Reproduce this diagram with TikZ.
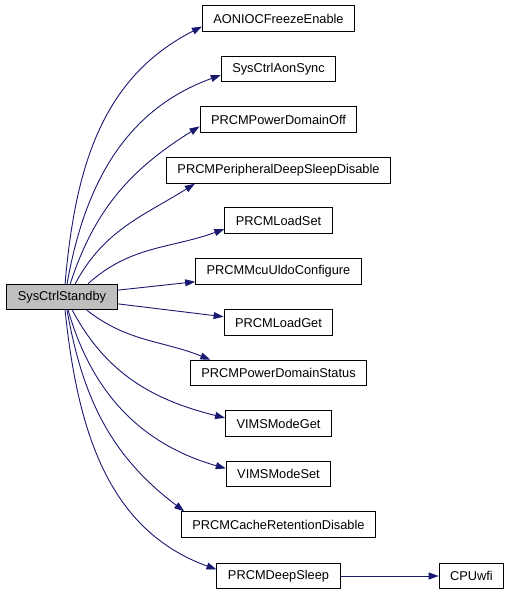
\documentclass[tikz,border=0pt]{standalone}
\usepackage{fontspec}
\setmainfont{Liberation Sans}
\usetikzlibrary{arrows.meta}

\definecolor{edgeblue}{HTML}{191970}
\definecolor{callergray}{HTML}{BFBFBF}

\begin{document}
\begin{tikzpicture}[
    x=1pt, y=1pt,
    font=\fontsize{12.8}{15}\selectfont,
    func/.style={draw=black, line width=1pt, fill=white, minimum height=25.5pt, inner xsep=11pt, inner ysep=0pt},
    caller/.style={func, fill=callergray},
    call/.style={edgeblue, line width=0.9pt, -{Triangle[length=10pt, width=7pt]}}
]
\useasboundingbox (0,0) rectangle (508,-595);

% Column of called functions
\def\xCallee{278.5}

% ==========================================
% Caller
\node[caller] (standby) at (62,-297) {SysCtrlStandby};

% ==========================================
% Callees (top to bottom)
\node[func] (aonfreeze)  at (\xCallee,-18.5) {AONIOCFreezeEnable};
\node[func] (aonsync)    at (\xCallee,-69)   {SysCtrlAonSync};
\node[func] (pdoff)      at (\xCallee,-119.5) {PRCMPowerDomainOff};
\node[func] (periphdsd)  at (\xCallee,-170.5) {PRCMPeripheralDeepSleepDisable};
\node[func] (loadset)    at (\xCallee,-220.5) {PRCMLoadSet};
\node[func] (uldoconf)   at (\xCallee,-271.5) {PRCMMcuUldoConfigure};
\node[func] (loadget)    at (\xCallee,-322.5) {PRCMLoadGet};
\node[func] (pdstatus)   at (\xCallee,-373)   {PRCMPowerDomainStatus};
\node[func] (vimsget)    at (\xCallee,-423.5) {VIMSModeGet};
\node[func] (vimsset)    at (\xCallee,-474)   {VIMSModeSet};
\node[func] (cacheret)   at (\xCallee,-524.5) {PRCMCacheRetentionDisable};
\node[func] (deepsleep)  at (\xCallee,-576)   {PRCMDeepSleep};
\node[func] (cpuwfi)     at (471.5,-576)      {CPUwfi};

% ==========================================
% Calls going up
\draw[call] (standby.77) to[out=85, in=207] (aonfreeze.186);
\draw[call] (standby.69) to[out=80, in=200] (aonsync.186);
\draw[call] (standby.58) to[out=72, in=212] (pdoff.185);
\draw[call] (standby.45) to[out=62, in=212] (periphdsd.189);
\draw[call] (standby.27) to[out=42, in=200] (loadset.189);

% Calls going right
\draw[call] (standby.7) -- (uldoconf.187);
\draw[call] (standby.353) -- (loadget.174);

% Calls going down
\draw[call] (standby.332) to[out=-38, in=158] (pdstatus.169);
\draw[call] (standby.308) to[out=-62, in=166] (vimsget.174);
\draw[call] (standby.295) to[out=-74, in=164] (vimsset.174);
\draw[call] (standby.291) to[out=-80, in=143] (cacheret.172);
\draw[call] (standby.283) to[out=-84, in=160] (deepsleep.174);

% ==========================================
% Second level
\draw[call] (deepsleep) -- (cpuwfi);

\end{tikzpicture}
\end{document}
